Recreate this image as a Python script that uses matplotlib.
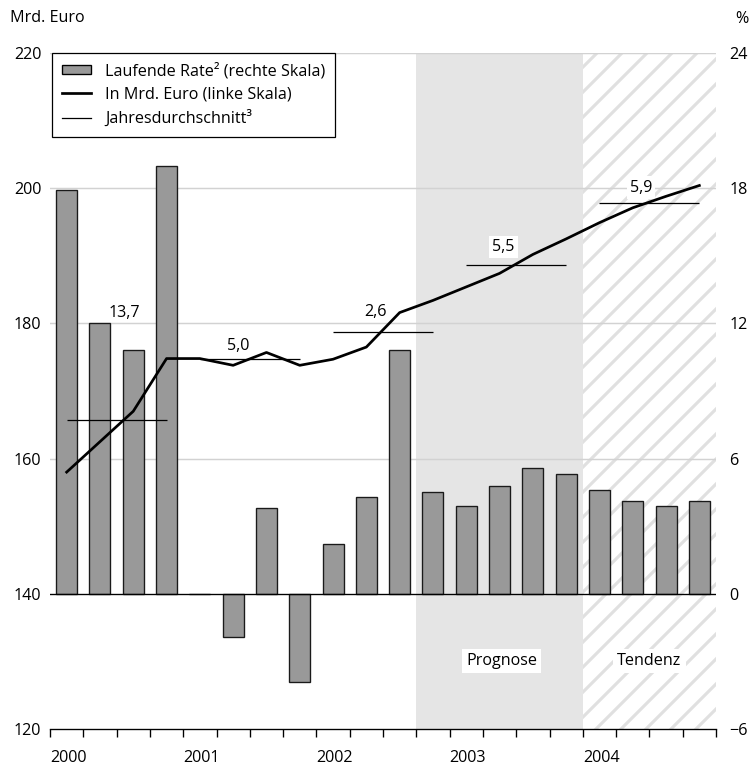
import matplotlib
matplotlib.use("Agg")
import matplotlib.pyplot as plt
import numpy as np
from matplotlib.patches import Patch
from matplotlib.lines import Line2D

plt.rcParams["font.family"] = ["Open Sans", "DejaVu Sans"]
plt.rcParams["font.size"] = 15.5
plt.rcParams["hatch.linewidth"] = 3.0
plt.rcParams["hatch.color"] = "#e0e0e0"

# quarterly data 2000 Q1 .. 2004 Q4
years = ["2000", "2001", "2002", "2003", "2004"]
rate = [17.9, 12.0, 10.8, 19.0, 0.0, -1.9, 3.8, -3.9, 2.2, 4.3,
        10.8, 4.5, 3.9, 4.8, 5.6, 5.3, 4.6, 4.1, 3.9, 4.1]
euro = [158.0, 162.5, 167.0, 174.8, 174.8, 173.8, 175.7, 173.8, 174.7, 176.5,
        181.6, 183.4, 185.4, 187.4, 190.2, 192.5, 194.9, 197.1, 198.8, 200.4]
year_avg = [165.7, 174.75, 178.75, 188.7, 197.8]
avg_labels = ["13,7", "5,0", "2,6", "5,5", "5,9"]

x = np.arange(len(rate))

fig = plt.figure(figsize=(753 / 75, 768 / 75), dpi=75)
ax = fig.add_axes([50 / 753, 1 - 729 / 768, 666 / 753, 676 / 768])
ax2 = ax.twinx()
ax.set_zorder(ax2.get_zorder() + 1)
ax.patch.set_visible(False)

# forecast / trend areas
ax2.axvspan(10.5, 15.5, color="#e5e5e5", lw=0, zorder=0)
ax2.axvspan(15.5, 19.5, facecolor="white", edgecolor="#e0e0e0",
            hatch="/", lw=0, zorder=0)

for v in [6, 12, 18, 24]:
    ax2.axhline(v, color="#d2d2d2", lw=1.4, zorder=0.5)

ax2.bar(x, rate, width=0.63, color="#999999", edgecolor="#1a1a1a",
        linewidth=1.3, zorder=2)
ax2.axhline(0, color="black", lw=1.3, zorder=3)

ax.plot(x, euro, color="black", lw=2.6, zorder=3)
for i, v in enumerate(year_avg):
    ax.hlines(v, 4 * i, 4 * i + 3, color="black", lw=1.2, zorder=3)

ax.text(1.72, 181.6, avg_labels[0], ha="center", va="center")
ax.text(5.15, 176.6, avg_labels[1], ha="center", va="center")
ax.text(9.28, 181.7, avg_labels[2], ha="center", va="center")
ax.text(13.12, 191.3, avg_labels[3], ha="center", va="center", zorder=2,
        bbox=dict(facecolor="white", edgecolor="none", pad=3))
ax.text(17.25, 200.1, avg_labels[4], ha="center", va="center", zorder=2,
        bbox=dict(facecolor="white", edgecolor="none", pad=3))
ax.text(13.06, 130.1, "Prognose", ha="center", va="center",
        bbox=dict(facecolor="white", edgecolor="none", pad=4))
ax.text(17.5, 130.1, "Tendenz", ha="center", va="center",
        bbox=dict(facecolor="white", edgecolor="none", pad=4))

# axes
ax.set_xlim(-0.5, 19.5)
ax.set_ylim(120, 220)
ax2.set_ylim(-6, 24)
ax.set_yticks(range(120, 221, 20))
ax2.set_yticks(range(-6, 25, 6))
ax2.set_yticklabels([str(v).replace("-", "\u2212") for v in range(-6, 25, 6)])
ax.tick_params(axis="y", length=0, pad=8.5)
ax2.tick_params(axis="y", length=0, pad=13)

ticks = np.arange(-0.5, 20, 1)
ax.set_xticks(ticks)
labels = [""] * len(ticks)
for i, y in enumerate(years):
    labels[4 * i] = y
ax.set_xticklabels(labels)
for lab in ax.get_xticklabels():
    lab.set_ha("left")
ax.tick_params(axis="x", direction="out", length=7.7, width=1.3, pad=12)

for a in (ax, ax2):
    for s in ["top", "left", "right"]:
        a.spines[s].set_visible(False)
ax2.spines["bottom"].set_visible(False)
ax.spines["bottom"].set_linewidth(1.3)

handles = [
    Patch(facecolor="#999999", edgecolor="black", lw=1.3),
    Line2D([], [], color="black", lw=2.6),
    Line2D([], [], color="black", lw=1.2),
]
names = ["Laufende Rate\u00b2 (rechte Skala)", "In Mrd. Euro (linke Skala)",
         "Jahresdurchschnitt\u00b3"]
leg = ax.legend(handles, names, loc="upper left", bbox_to_anchor=(0.003, 1.0),
                borderaxespad=0, fancybox=False, framealpha=1,
                edgecolor="black", handlelength=1.8, handleheight=0.5,
                handletextpad=0.9, labelspacing=0.45, borderpad=0.6)
leg.get_frame().set_linewidth(1.2)
leg.set_zorder(10)

fig.text(10 / 753, 1 - 18 / 768, "Mrd. Euro", ha="left", va="center")
fig.text(742 / 753, 1 - 19 / 768, "%", ha="center", va="center")

fig.savefig("out.png", dpi=75)
